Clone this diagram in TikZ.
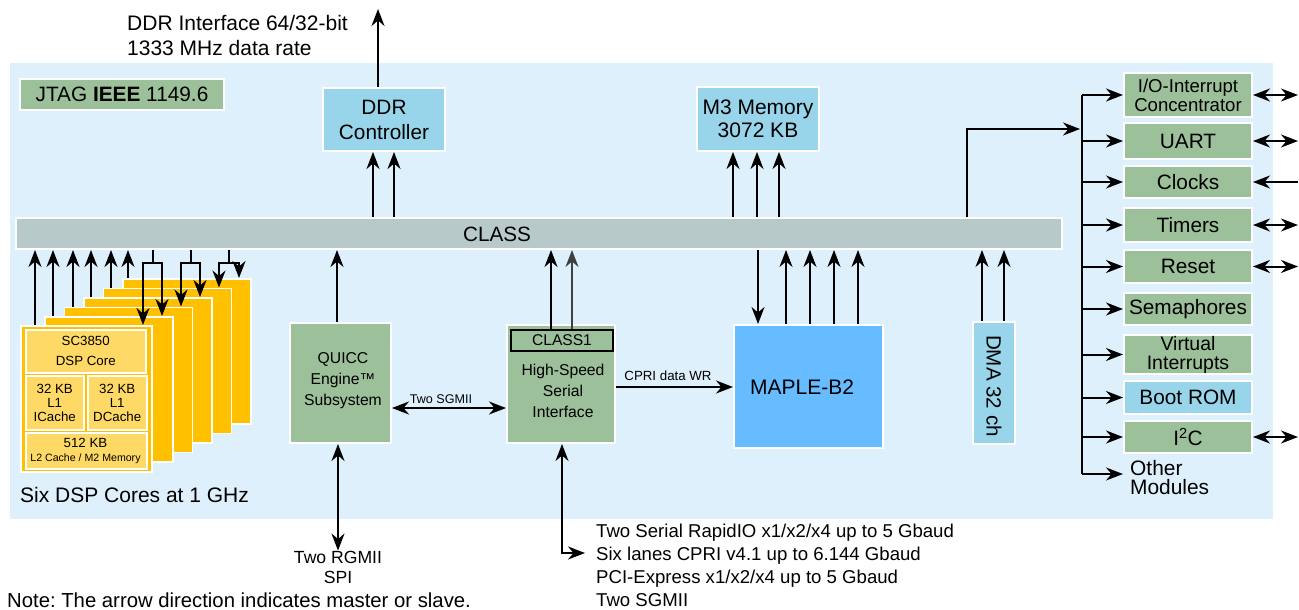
\documentclass[tikz,border=0pt]{standalone}
\usepackage{fontspec}
\setmainfont{Liberation Sans}
\usetikzlibrary{arrows.meta}
\definecolor{bgblue}{RGB}{223,240,253}
\definecolor{modgreen}{RGB}{156,192,154}
\definecolor{cyanbox}{RGB}{153,213,234}
\definecolor{maplebl}{RGB}{102,188,255}
\definecolor{classgr}{RGB}{183,201,201}
\definecolor{coreor}{RGB}{255,192,0}
\definecolor{coreyl}{RGB}{255,217,102}
\newcommand{\fsz}[2]{\fontsize{#1pt}{#2pt}\selectfont}
\frenchspacing
\begin{document}
\begin{tikzpicture}[x=1pt,y=-1pt,
  >={Stealth[length=17pt,width=13pt,inset=5.5pt]},
  arr/.style={line width=2pt,->},
  darr/.style={line width=2pt,<->},
  ln/.style={line width=2pt},
  blk/.style={draw=white,line width=2pt,inner sep=0pt,align=center,font=\fsz{20.8}{25}},
  gbox/.style={blk,fill=modgreen},
  cbox/.style={blk,fill=cyanbox},
  mod/.style={gbox,minimum width=128pt},
  card/.style={draw=white,line width=1.5pt,fill=coreor,anchor=north west,minimum width=128pt,minimum height=145pt,inner sep=0pt},
  inbox/.style={draw=white,line width=1.5pt,fill=coreyl,anchor=north west,inner sep=0pt,align=center,font=\fsz{13.3}{14}},
  txt/.style={inner sep=0pt,align=center},
]
\useasboundingbox (0,0) rectangle (1299,610);
\fill[bgblue] (10,63) rectangle (1273,519);

% ---- top texts and boxes
\node[txt,anchor=base west,font=\fsz{21}{25}] (ddrif1) at (127,31) {DDR Interface 64/32-bit};
\node[txt,anchor=base west,font=\fsz{21}{25}] (ddrif2) at (127,56) {1333 MHz data rate};
\node[gbox,minimum width=204pt,minimum height=31pt] (jtag) at (122,94.5) {JTAG \textbf{IEEE} 1149.6};
\node[cbox,minimum width=122pt,minimum height=63pt] (ddr) at (384,119.5) {DDR\\Controller};
\node[cbox,minimum width=122pt,minimum height=64pt,font=\fsz{21}{23.5}] (m3) at (758,119) {M3 Memory\\3072 KB};
\node[blk,fill=classgr,minimum width=1046pt,minimum height=31pt] (class) at (539,233.5) {};
\node[txt,font=\fsz{20.7}{24}] (classlbl) at (497,234) {CLASS};

\coordinate (ddrout) at (378,9);
\draw[arr] (378,0 |- ddr.north) -- (ddrout);
\foreach \x in {373,394} \draw[arr] (\x,0 |- class.north) -- (\x,0 |- ddr.south);
\foreach \x in {733,757,779} \draw[arr] (\x,0 |- class.north) -- (\x,0 |- m3.south);

% ---- DSP cores
\node[card] (core5) at (122,278) {};
\node[card] (core4) at (102.5,287.5) {};
\node[card] (core3) at (83,297) {};
\node[card] (core2) at (63.5,306.5) {};
\node[card] (core1) at (44,316) {};
\node[card,minimum width=131pt,minimum height=146pt] (core0) at (20,325) {};
\node[inbox,minimum width=120pt,minimum height=43pt,font=\fsz{13.3}{20}] (dsp) at (25,329) {SC3850\\DSP Core};
\node[inbox,minimum width=58pt,minimum height=54pt] (icache) at (25,375) {32 KB\\L1\\ICache};
\node[inbox,minimum width=59pt,minimum height=54pt] (dcache) at (87,375) {32 KB\\L1\\DCache};
\node[inbox,minimum width=121pt,minimum height=36pt] (l2) at (25,432) {};
\node[txt,font=\fsz{13.3}{14}] (l2a) at (85.5,443) {512 KB};
\node[txt,font=\fsz{10.6}{12}] (l2b) at (85.5,459) {L2 Cache / M2 Memory};
\node[txt,anchor=base west,font=\fsz{21}{25}] (sixlbl) at (20,502) {Six DSP Cores at 1 GHz};

\foreach \x/\k in {35/core0,53/core1,73/core2,91/core3,111/core4,128/core5}
  \draw[arr] (\x,0 |- \k.north) -- (\x,0 |- class.south);
\foreach \xm/\xa/\xb/\ka/\kb in {152.5/143/162/core0/core1,190.5/181/200/core2/core3,229/219/239/core4/core5}{
  \draw[arr] (\xm,0 |- class.south) -- (\xm,263) -| (\xa,0 |- \ka.north);
  \draw[arr] (\xm,263) -| (\xb,0 |- \kb.north);
}

% ---- QUICC and HSSI
\node[gbox,minimum width=101pt,minimum height=120pt] (quicc) at (340.5,383) {};
\node[txt,font=\fsz{15.7}{21}] (quicclbl) at (343,381) {QUICC\\Engine™\\Subsystem};
\node[gbox,minimum width=108pt,minimum height=118pt] (hssi) at (561,384) {};
\node[draw=black,line width=2pt,fill=modgreen,minimum width=102pt,minimum height=21pt,inner sep=0pt,font=\fsz{15.6}{18}] (class1) at (562,340.5) {CLASS1};
\node[txt,font=\fsz{15.7}{21}] (hssilbl) at (563,391) {High-Speed\\Serial\\Interface};

\draw[arr] (337,0 |- quicc.north) -- (337,0 |- class.south);
\draw[arr] (551,0 |- class1.north) -- (551,0 |- class.south);
\draw[arr,line width=1.3pt,black!75] (572,0 |- class1.north) -- (572,0 |- class.south);

\draw[darr] (quicc.east |- 0,408) -- (hssi.west |- 0,408);
\node[txt,font=\fsz{12.6}{14}] (sgmiilbl) at (441,399) {Two SGMII};

\node[txt,font=\fsz{17.6}{20}] (rgmii) at (338,567) {Two RGMII\\SPI};
\draw[darr] (338,0 |- quicc.south) -- (rgmii.north);

\node[txt,anchor=base west,font=\fsz{18.6}{22}] (sio1) at (596,537) {Two Serial RapidIO x1/x2/x4 up to 5 Gbaud};
\node[txt,anchor=base west,font=\fsz{18.6}{22}] (sio2) at (596,560) {Six lanes CPRI v4.1 up to 6.144 Gbaud};
\node[txt,anchor=base west,font=\fsz{18.6}{22}] (sio3) at (596,583) {PCI-Express x1/x2/x4 up to 5 Gbaud};
\node[txt,anchor=base west,font=\fsz{18.6}{22}] (sio4) at (596,606) {Two SGMII};
\coordinate (sioin) at (585,553);
\draw[darr] (562,0 |- hssi.south) |- (sioin);

% ---- MAPLE and DMA
\node[blk,fill=maplebl,minimum width=149pt,minimum height=123pt] (maple) at (808.5,386.5) {};
\node[txt,font=\fsz{21}{25}] (maplelbl) at (802,387) {MAPLE-B2};
\draw[arr] (hssi.east |- 0,387) -- (maple.west |- 0,387);
\node[txt,font=\fsz{13.3}{15}] (cprilbl) at (668,376) {CPRI data WR};
\draw[arr] (758,0 |- class.south) -- (758,0 |- maple.north);
\foreach \x in {786,810,834,858} \draw[arr] (\x,0 |- maple.north) -- (\x,0 |- class.south);

\node[cbox,minimum width=42pt,minimum height=122pt] (dma) at (994,383) {};
\node[txt,rotate=-90,font=\fsz{20.6}{24}] (dmalbl) at (994,386) {DMA 32 ch};
\foreach \x in {982,1004} \draw[arr] (\x,0 |- dma.north) -- (\x,0 |- class.south);

% ---- right modules
\node[mod,minimum height=44pt,font=\fsz{18.6}{19}] (io) at (1188,95) {I/O-Interrupt\\Concentrator};
\node[mod,minimum height=36pt] (uart) at (1188,141) {UART};
\node[mod,minimum height=32pt] (clocks) at (1188,182) {Clocks};
\node[mod,minimum height=34pt] (timers) at (1188,225) {Timers};
\node[mod,minimum height=33pt] (reset) at (1188,266.5) {Reset};
\node[mod,minimum height=32pt] (sema) at (1188,309) {Semaphores};
\node[mod,minimum height=39pt,font=\fsz{19.5}{19}] (virt) at (1188,354.5) {Virtual\\Interrupts};
\node[cbox,minimum width=128pt,minimum height=33pt] (boot) at (1188,397.5) {Boot ROM};
\node[mod,minimum height=32pt] (i2c) at (1188,437) {I\textsuperscript{2}C};
\node[txt,anchor=west,align=left,font=\fsz{20.9}{19}] (other) at (1130,477.5) {Other\\Modules};

\coordinate (busbot) at (1082,474);
\coordinate (othin) at (1123,474);
\coordinate (busin) at (1080,129);
\draw[ln] (1082,0 |- io.west) -- (busbot);
\draw[arr] (busbot) -- (othin);
\foreach \m in {io,uart,clocks,timers,reset,sema,virt,boot,i2c}
  \draw[arr] (1082,0 |- \m.west) -- (\m.west);
\draw[arr] (967,0 |- class.north) |- (busin);

\foreach \m in {io,uart,timers,reset,i2c} \draw[darr] (\m.east) -- (1298,0 |- \m.east);
\draw[arr] (1298,0 |- clocks.east) -- (clocks.east);

\node[txt,anchor=base west,font=\fsz{20.3}{24}] (note) at (7,607) {Note: The arrow direction indicates master or slave.};
\end{tikzpicture}
\end{document}
